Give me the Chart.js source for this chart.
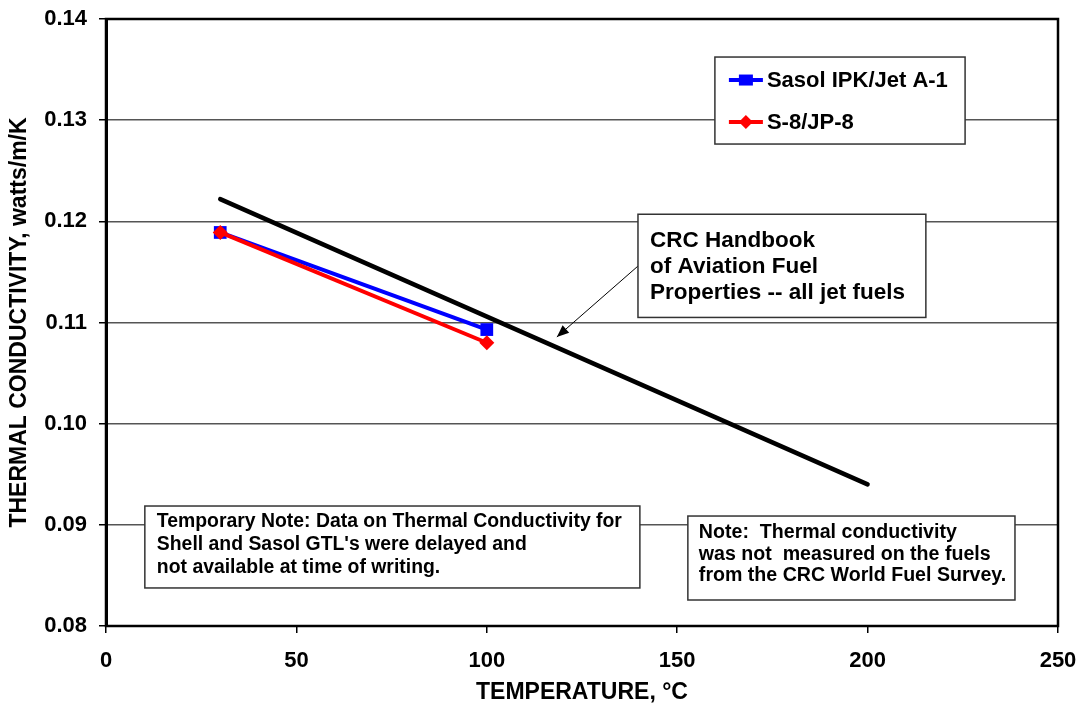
<!DOCTYPE html>
<html>
<head>
<meta charset="utf-8">
<script src="https://cdn.jsdelivr.net/npm/chart.js@4"></script>
<style>
  html, body { margin: 0; padding: 0; background: #ffffff; }
  #wrap { width: 1083px; height: 711px; }
</style>
</head>
<body>
<div id="wrap"><canvas id="c" width="1083" height="711"></canvas></div>
<script>
// ---- data ----
const temperatures = [30, 100];
const sasolIPK = [0.1189, 0.1093];
const s8JP8 = [0.1189, 0.1080];
const crcTemperatures = [30, 200];
const crcHandbook = [0.1222, 0.0940];
const xTicks = [0, 50, 100, 150, 200, 250];
const yTicks = [0.08, 0.09, 0.10, 0.11, 0.12, 0.13, 0.14];
const seriesNames = ['Sasol IPK/Jet A-1', 'S-8/JP-8'];
const crcNote = ['CRC Handbook', 'of Aviation Fuel', 'Properties -- all jet fuels'];
const tempNote = ['Temporary Note: Data on Thermal Conductivity for', "Shell and Sasol GTL's were delayed and", 'not available at time of writing.'];
const surveyNote = ['Note:  Thermal conductivity', 'was not  measured on the fuels', 'from the CRC World Fuel Survey.'];

const FONT = "'Liberation Sans', Arial, sans-serif";
const pts = (xs, ys) => xs.map((x, i) => ({x: x, y: ys[i]}));

const annotations = {
  id: 'annotations',
  beforeDraw(chart) {
    const ctx = chart.ctx;
    ctx.save();
    ctx.fillStyle = '#ffffff';
    ctx.fillRect(0, 0, chart.width, chart.height);
    ctx.restore();
  },
  beforeDatasetsDraw(chart) {
    const {ctx, chartArea: a} = chart;
    ctx.save();
    ctx.strokeStyle = '#000';
    ctx.lineWidth = 2.5;
    ctx.strokeRect(a.left, a.top, a.right - a.left, a.bottom - a.top);
    ctx.restore();
  },
  afterDatasetsDraw(chart) {
    const ctx = chart.ctx;
    const xs = chart.scales.x, ys = chart.scales.y;
    const X = v => xs.getPixelForValue(v);
    const Y = v => ys.getPixelForValue(v);

    function box(x0, y0, x1, y1, lines, size, lh, padX, firstY) {
      const l = X(x0), r = X(x1), t = Y(y0), b = Y(y1);
      ctx.save();
      ctx.fillStyle = '#fff';
      ctx.fillRect(l, t, r - l, b - t);
      ctx.strokeStyle = '#333';
      ctx.lineWidth = 1.5;
      ctx.strokeRect(l, t, r - l, b - t);
      if (lines) {
        ctx.fillStyle = '#000';
        ctx.font = 'bold ' + size + 'px ' + FONT;
        ctx.textBaseline = 'middle';
        ctx.textAlign = 'left';
        lines.forEach((s, i) => ctx.fillText(s, l + padX, t + firstY + i * lh));
      }
      ctx.restore();
      return {l, r, t, b};
    }

    // arrow from CRC box to the CRC line
    const ax0 = X(139.7), ay0 = Y(0.11558), ax1 = X(118.4), ay1 = Y(0.10857);
    ctx.save();
    ctx.strokeStyle = '#000';
    ctx.fillStyle = '#000';
    ctx.lineWidth = 1;
    ctx.beginPath(); ctx.moveTo(ax0, ay0); ctx.lineTo(ax1, ay1); ctx.stroke();
    const ang = Math.atan2(ay1 - ay0, ax1 - ax0);
    const hl = 12, hw = 5;
    ctx.beginPath();
    ctx.moveTo(ax1, ay1);
    ctx.lineTo(ax1 - hl * Math.cos(ang) + hw * Math.sin(ang), ay1 - hl * Math.sin(ang) - hw * Math.cos(ang));
    ctx.lineTo(ax1 - hl * Math.cos(ang) - hw * Math.sin(ang), ay1 - hl * Math.sin(ang) + hw * Math.cos(ang));
    ctx.closePath(); ctx.fill();
    ctx.restore();

    box(139.7, 0.1207, 215.3, 0.1105, crcNote, 22.5, 26, 12, 27);
    box(10.2, 0.09186, 140.2, 0.08376, tempNote, 19.4, 23, 12, 16);
    box(152.8, 0.09087, 238.7, 0.08257, surveyNote, 19.6, 21.5, 11, 17);

    // legend
    const lg = box(159.9, 0.13624, 225.6, 0.12764, null);
    const ds = chart.data.datasets;
    [0, 1].forEach(i => {
      const d = ds[i];
      const cy = lg.t + 23 + i * 42;
      const lx0 = lg.l + 14, lx1 = lg.l + 48;
      ctx.save();
      ctx.strokeStyle = d.borderColor;
      ctx.lineWidth = 4;
      ctx.beginPath(); ctx.moveTo(lx0, cy); ctx.lineTo(lx1, cy); ctx.stroke();
      ctx.fillStyle = d.pointBackgroundColor;
      const cx = (lx0 + lx1) / 2;
      if (d.pointStyle === 'rect') {
        ctx.fillRect(cx - 7, cy - 5.5, 14, 11);
      } else {
        ctx.beginPath();
        ctx.moveTo(cx, cy - 7); ctx.lineTo(cx + 7, cy); ctx.lineTo(cx, cy + 7); ctx.lineTo(cx - 7, cy);
        ctx.closePath(); ctx.fill();
      }
      ctx.fillStyle = '#000';
      ctx.font = 'bold 22px ' + FONT;
      ctx.textBaseline = 'middle';
      ctx.textAlign = 'left';
      ctx.fillText(seriesNames[i], lg.l + 52, cy + 1);
      ctx.restore();
    });
  }
};

new Chart(document.getElementById('c'), {
  type: 'scatter',
  data: {
    datasets: [
      {
        label: seriesNames[0],
        data: pts(temperatures, sasolIPK),
        showLine: true,
        borderColor: '#0000ff',
        backgroundColor: '#0000ff',
        pointBackgroundColor: '#0000ff',
        pointBorderColor: '#0000ff',
        borderWidth: 4,
        pointStyle: 'rect',
        pointRadius: 9,
        pointBorderWidth: 0,
        order: 2
      },
      {
        label: seriesNames[1],
        data: pts(temperatures, s8JP8),
        showLine: true,
        borderColor: '#ff0000',
        backgroundColor: '#ff0000',
        pointBackgroundColor: '#ff0000',
        pointBorderColor: '#ff0000',
        borderWidth: 4,
        pointStyle: 'rectRot',
        pointRadius: 7.5,
        pointBorderWidth: 0,
        order: 1
      },
      {
        label: 'CRC Handbook',
        data: pts(crcTemperatures, crcHandbook),
        showLine: true,
        borderColor: '#000000',
        backgroundColor: '#000000',
        borderWidth: 4.5,
        borderCapStyle: 'round',
        pointRadius: 0,
        order: 0
      }
    ]
  },
  options: {
    responsive: false,
    animation: false,
    devicePixelRatio: 1,
    layout: { padding: { top: 19, right: 25, left: 0, bottom: 0 } },
    plugins: { legend: { display: false }, tooltip: { enabled: false } },
    scales: {
      x: {
        type: 'linear',
        min: 0, max: 250,
        afterBuildTicks: s => { s.ticks = xTicks.map(v => ({value: v})); },
        afterFit: s => { s.height = 85; s.paddingLeft = 0; s.paddingRight = 0; },
        ticks: {
          color: '#000',
          font: { family: FONT, size: 22, weight: 'bold' },
          padding: 15,
          maxRotation: 0
        },
        grid: { drawOnChartArea: false, drawTicks: true, tickLength: 7, color: '#000', lineWidth: 1.5 },
        border: { display: true, color: '#000', width: 2 },
        title: {
          display: true,
          text: 'TEMPERATURE, °C',
          color: '#000',
          font: { family: FONT, size: 23, weight: 'bold' },
          padding: { top: 0, bottom: 5 }
        }
      },
      y: {
        type: 'linear',
        min: 0.08, max: 0.14,
        afterBuildTicks: s => { s.ticks = yTicks.map(v => ({value: v})); },
        afterFit: s => { s.width = 106; s.paddingTop = 0; s.paddingBottom = 0; },
        ticks: {
          color: '#000',
          font: { family: FONT, size: 22, weight: 'bold' },
          padding: 12,
          callback: v => Number(v).toFixed(2)
        },
        grid: { color: '#555', lineWidth: 1.5, tickLength: 7, tickColor: '#000' },
        border: { display: true, color: '#000', width: 3 },
        title: {
          display: true,
          text: 'THERMAL CONDUCTIVITY, watts/m/K',
          color: '#000',
          font: { family: FONT, size: 23, weight: 'bold' },
          padding: { top: 6, bottom: 0 }
        }
      }
    }
  },
  plugins: [annotations]
});
</script>
</body>
</html>
